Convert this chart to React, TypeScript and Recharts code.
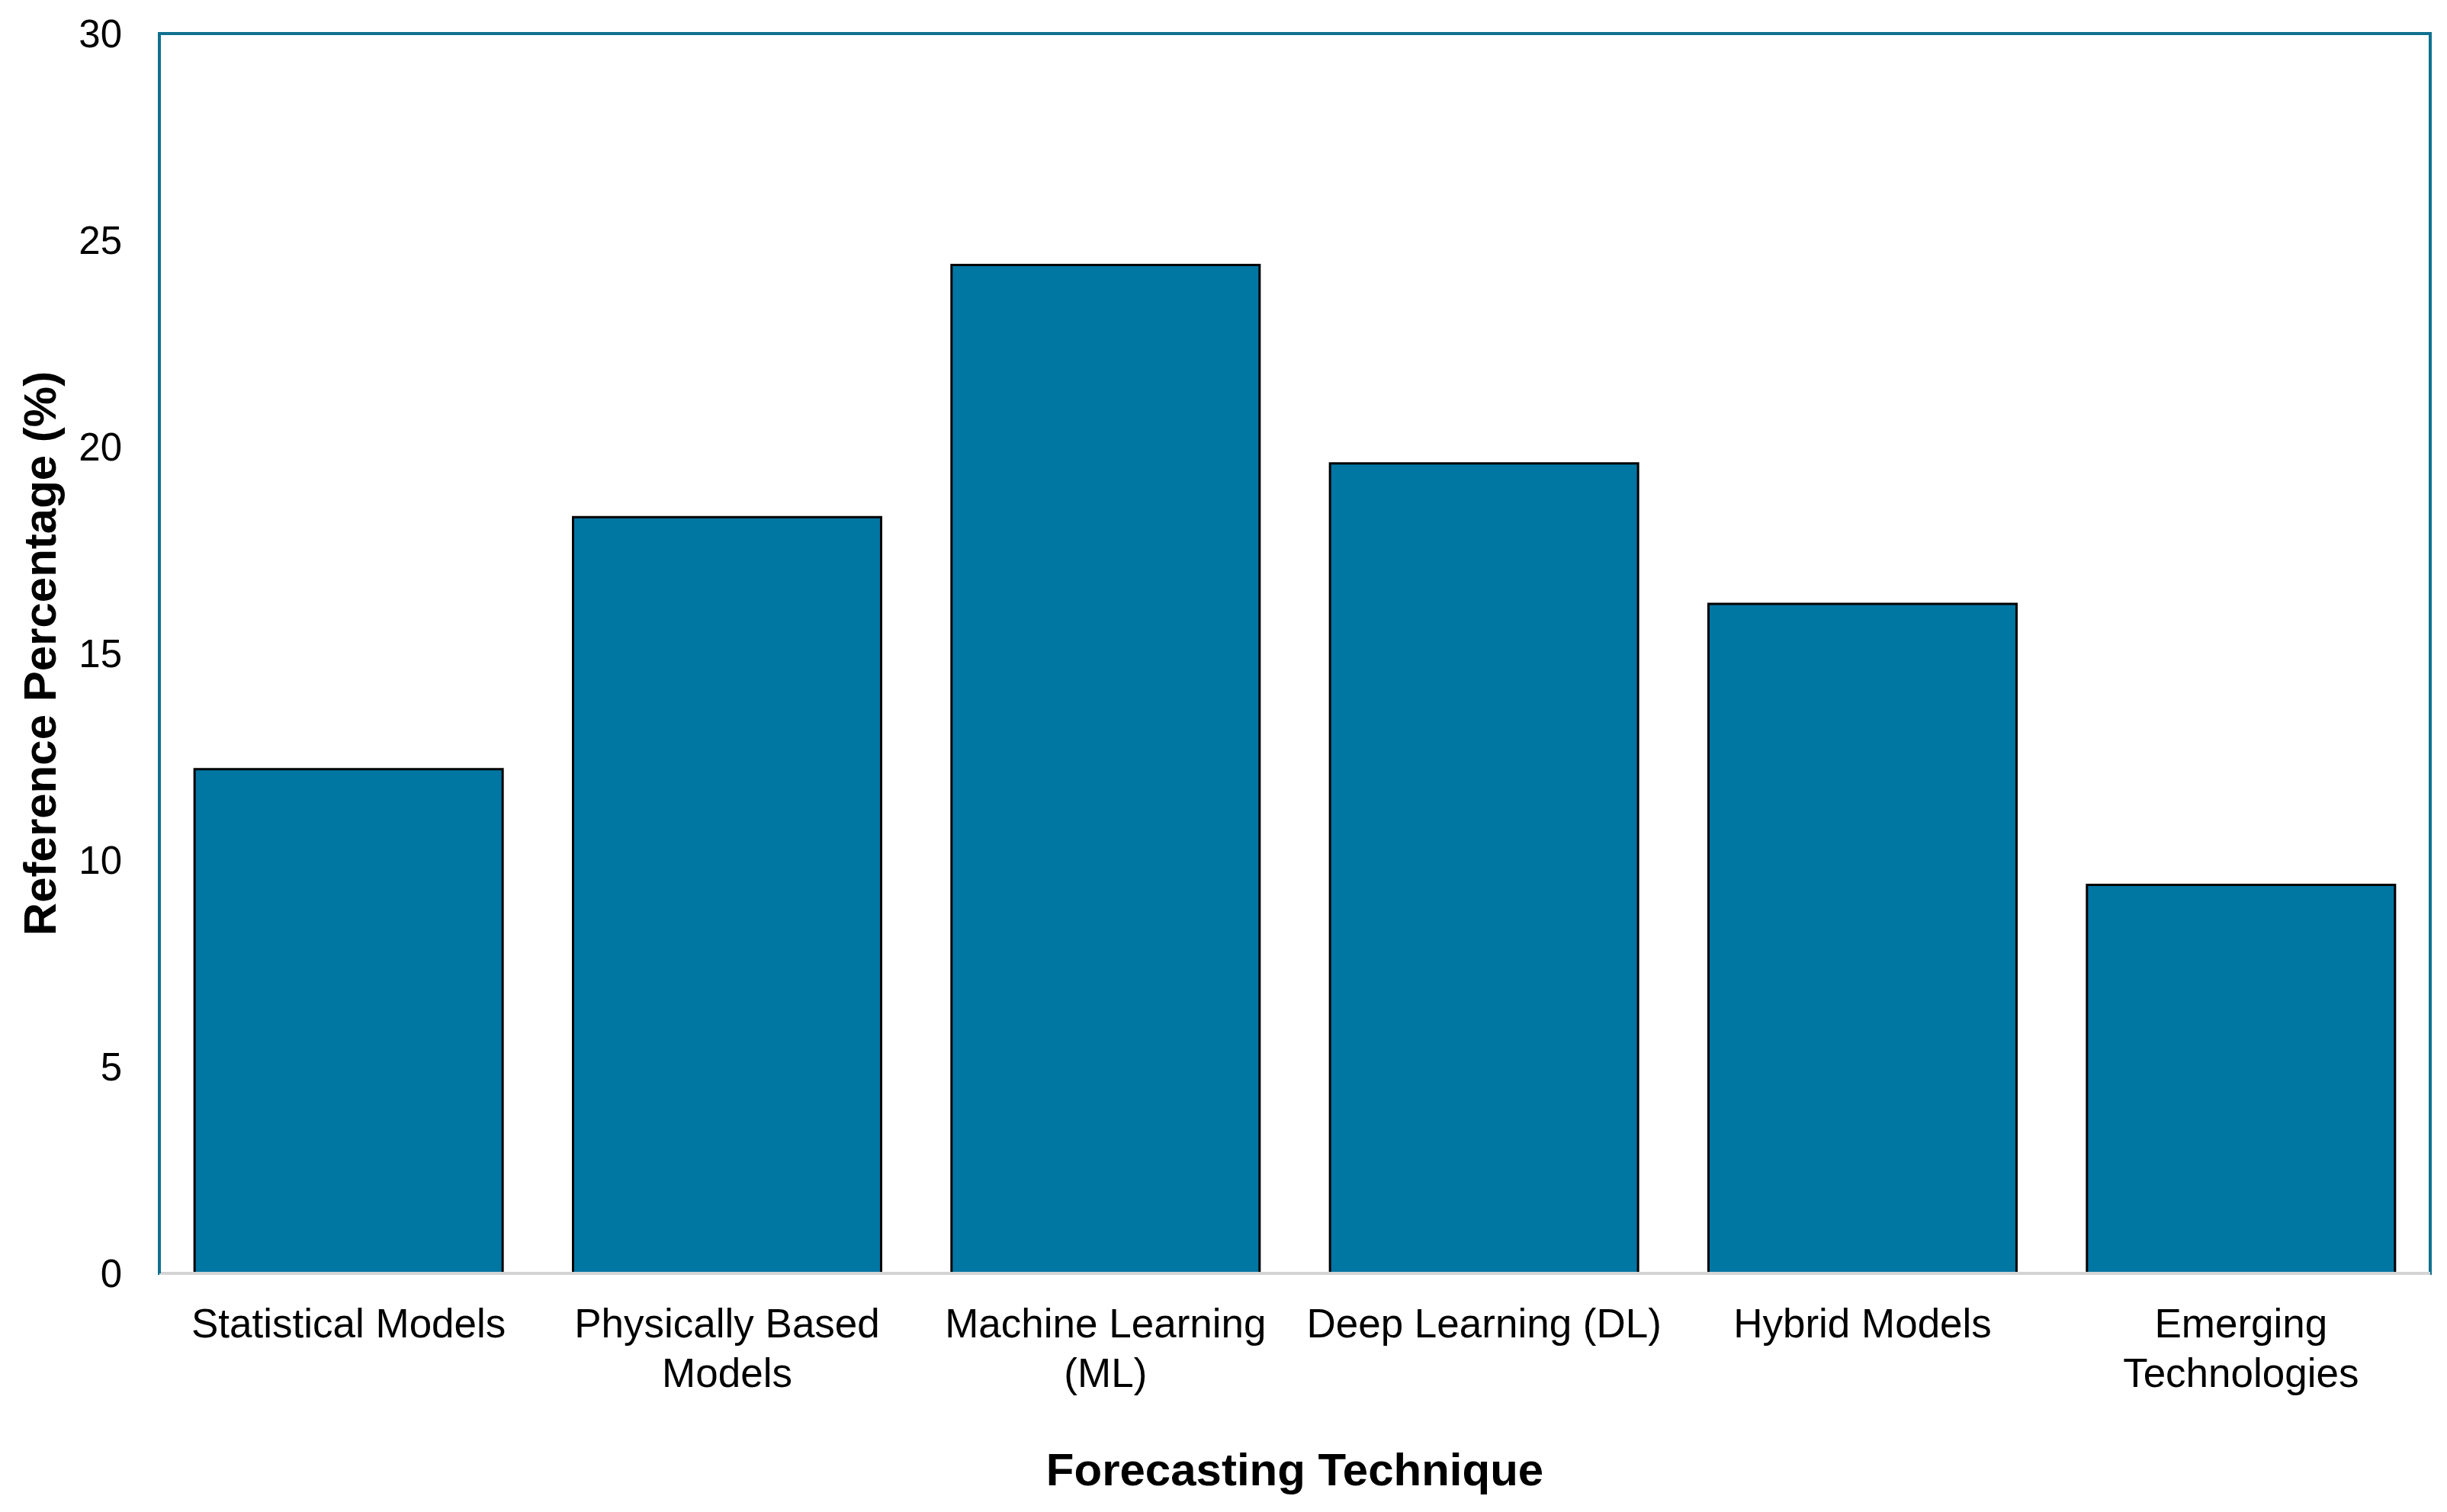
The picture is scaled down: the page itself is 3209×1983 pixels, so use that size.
import { Bar, BarChart, ReferenceArea, XAxis, YAxis } from 'recharts';

const techniques = [
  'Statistical Models',
  'Physically Based\nModels',
  'Machine Learning\n(ML)',
  'Deep Learning (DL)',
  'Hybrid Models',
  'Emerging\nTechnologies',
];
const referencePct = [12.2, 18.3, 24.4, 19.6, 16.2, 9.4];
const yTicks = [0, 5, 10, 15, 20, 25, 30];

const FONT = '"Liberation Sans", Arial, sans-serif';
const FRAME = '#10718f';
const BAR_FILL = '#0076a3';

const chartData = techniques.map((name, i) => ({ name, value: referencePct[i] }));

function CategoryTick({ x, y, payload }: any) {
  const lines = String(payload.value).split('\n');
  return (
    <text x={x} y={y} textAnchor="middle" fontFamily={FONT} fontSize={53} fill="#000">
      {lines.map((line, i) => (
        <tspan key={i} x={x} y={y + 84 + i * 65}>
          {line}
        </tspan>
      ))}
    </text>
  );
}

export default function App() {
  return (
    <div style={{ position: 'absolute', left: 0, top: 0, width: 3209, height: 1983, background: '#fff' }}>
      <BarChart
        width={3209}
        height={1983}
        data={chartData}
        margin={{ top: 44, right: 22, bottom: 0, left: 0 }}
        barCategoryGap="9.3%"
      >
        {/* plot frame */}
        <ReferenceArea y1={0} y2={30} fill="none" stroke={FRAME} strokeWidth={4} ifOverflow="visible" />
        <XAxis
          dataKey="name"
          height={313}
          tickSize={0}
          tickMargin={0}
          tickLine={false}
          axisLine={{ stroke: '#d4d4d4', strokeWidth: 4 }}
          tick={<CategoryTick />}
          interval={0}
          label={{
            value: 'Forecasting Technique',
            position: 'insideBottom',
            offset: 35,
            style: { fontFamily: FONT, fontSize: 60, fontWeight: 700, fill: '#000' },
          }}
        />
        <YAxis
          domain={[0, 30]}
          ticks={yTicks}
          width={209}
          tickSize={0}
          tickMargin={49}
          tickLine={false}
          axisLine={{ stroke: FRAME, strokeWidth: 4 }}
          tick={{ fontFamily: FONT, fontSize: 51, fill: '#000' }}
          label={{
            value: 'Reference Percentage (%)',
            angle: -90,
            position: 'center',
            dx: -53,
            style: { fontFamily: FONT, fontSize: 60, fontWeight: 700, fill: '#000', textAnchor: 'middle' },
          }}
        />
        <Bar dataKey="value" fill={BAR_FILL} stroke="#000" strokeWidth={3} isAnimationActive={false} />
      </BarChart>
    </div>
  );
}
